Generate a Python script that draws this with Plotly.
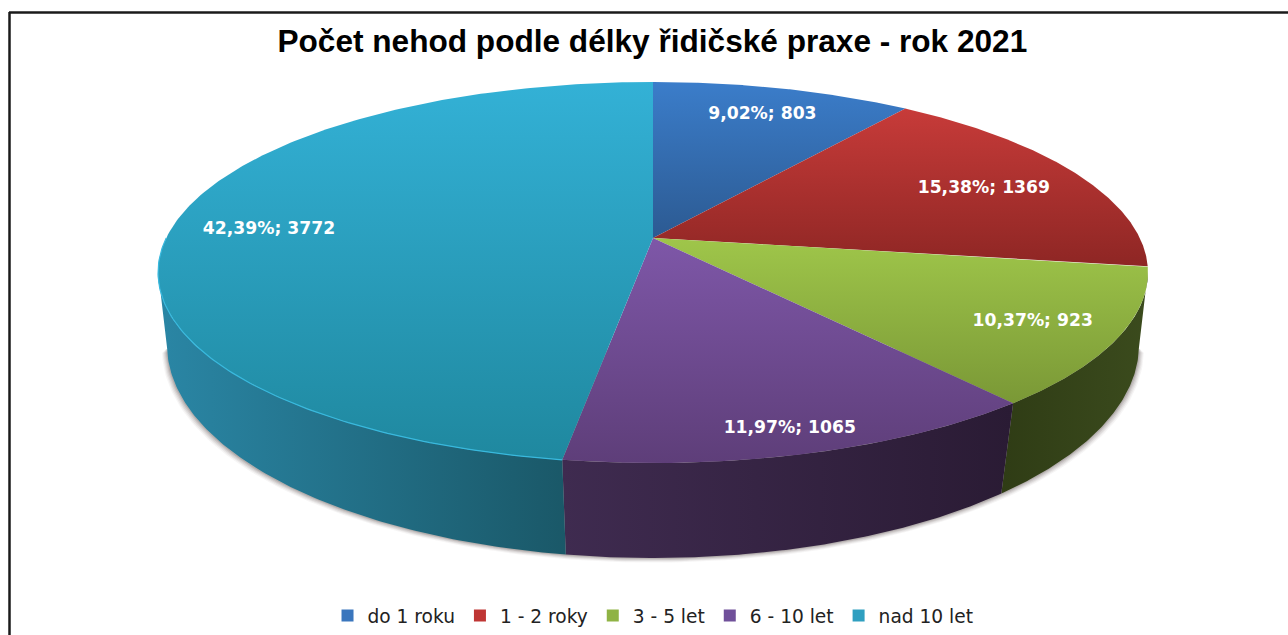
import numpy as np
import plotly.graph_objects as go

TITLE = "Počet nehod podle délky řidičské praxe - rok 2021"
categories = ["do 1 roku", "1 - 2 roky", "3 - 5 let", "6 - 10 let", "nad 10 let"]
counts = [803, 1369, 923, 1065, 3772]
percent_labels = ["9,02%", "15,38%", "10,37%", "11,97%", "42,39%"]

# style
face_top = ["#3b7dca", "#c73b39", "#9fc64a", "#7e57a8", "#33b1d6"]
face_bottom = ["#2c5a92", "#8e2624", "#7a9836", "#5e3e79", "#1f889f"]
wall_left = ["#2c5a92", "#8e2624", "#2f3c15", "#3f2b50", "#2a86a5"]
wall_right = ["#2c5a92", "#8e2624", "#3b4b1d", "#2a1b34", "#1a5868"]
swatch = ["#3a76bd", "#bf3634", "#8fb344", "#70509a", "#2f9fc0"]
label_radius = [0.82, 0.775, 0.83, 0.895, 0.80]
LABEL_DY = 2.5

# projection of the tilted disc
CX = 653
TOP = dict(y0=238, a=486.8, b=184.3, k=0.181)
BOT = dict(y0=311, a=479.7, b=207.5, k=0.16)


def project(theta_deg, plane, r=1.0):
    t = np.radians(theta_deg)
    u, v = r * np.sin(t), r * np.cos(t)
    w = 1 + plane["k"] * v
    return CX + plane["a"] * u / w, plane["y0"] - plane["b"] * v / w


total = sum(counts)
edges = np.concatenate([[0], np.cumsum(counts)]) / total * 360

fig = go.Figure()

# soft shadow beneath the disc
ring = np.linspace(100, 260, 181)
for grow, alpha in [(5, 0.05), (4, 0.07), (3, 0.09), (2, 0.12), (1, 0.16)]:
    sx, sy = project(ring, BOT)
    sx = CX + (sx - CX) * (1 + grow / 486)
    sy = sy + grow * 0.9
    fig.add_trace(go.Scatter(x=sx, y=sy, mode="lines", fill="toself", line=dict(width=0),
                             fillcolor=f"rgba(70,60,55,{alpha})", hoverinfo="skip", showlegend=False))

# side walls
for i in range(len(counts)):
    a0, a1 = max(edges[i], 100), min(edges[i + 1], 260)
    if a1 <= a0:
        continue
    th = np.linspace(a0, a1, 120)
    tx, ty = project(th, TOP)
    bx, by = project(th[::-1], BOT)
    xs, ys = np.r_[tx, bx], np.r_[ty, by]
    fig.add_trace(go.Scatter(
        x=xs, y=ys, mode="lines", line=dict(width=0), fill="toself", hoverinfo="skip", showlegend=False,
        fillgradient=dict(type="horizontal", start=float(xs.min()), stop=float(xs.max()),
                          colorscale=[[0, wall_left[i]], [1, wall_right[i]]]),
    ))

# top faces
for i, name in enumerate(categories):
    th = np.linspace(edges[i], edges[i + 1], 240)
    ax, ay = project(th, TOP)
    xs = np.r_[CX, ax, CX]
    ys = np.r_[TOP["y0"], ay, TOP["y0"]]
    fig.add_trace(go.Scatter(
        x=xs, y=ys, mode="lines", line=dict(width=0), fill="toself", name=name, hoverinfo="skip", showlegend=False,
        fillgradient=dict(type="vertical", start=float(ys.min()), stop=float(ys.max()),
                          colorscale=[[0, face_top[i]], [1, face_bottom[i]]]),
    ))

# light rim on the large slice
th = np.linspace(edges[4], 270, 120)
rx, ry = project(th, TOP)
fig.add_trace(go.Scatter(x=rx, y=ry, mode="lines", line=dict(color="#38b9de", width=1.2),
                         hoverinfo="skip", showlegend=False))

# data labels
mids = (edges[:-1] + edges[1:]) / 2
lx, ly = [], []
for m, r in zip(mids, label_radius):
    px, py = project(m, TOP, r)
    lx.append(px)
    ly.append(py + LABEL_DY)
texts = [f"{p}; {c}" for p, c in zip(percent_labels, counts)]
fig.add_trace(go.Scatter(x=lx, y=ly, mode="text", text=texts, hoverinfo="skip", showlegend=False,
                         textfont=dict(family="DejaVu Sans", size=17.2, color="#ffffff", weight=700)))

# legend entries
for name, c in zip(categories, swatch):
    fig.add_trace(go.Scatter(x=[None], y=[None], mode="markers", name=name,
                             marker=dict(symbol="square", size=12, color=c)))

fig.update_layout(
    width=1288, height=635, margin=dict(l=0, r=0, t=0, b=0),
    paper_bgcolor="#ffffff", plot_bgcolor="#ffffff",
    title=dict(text=f"<b>{TITLE}</b>", x=0.5065, xanchor="center", y=0.935, yanchor="middle",
               font=dict(family="Liberation Sans", size=31.6, color="#000000")),
    xaxis=dict(range=[0, 1288], visible=False, fixedrange=True),
    yaxis=dict(range=[635, 0], visible=False, fixedrange=True),
    legend=dict(orientation="h", x=0.507, xanchor="center", y=0.0, yanchor="bottom",
                font=dict(family="DejaVu Sans", size=18.6, color="#222222"),
                itemwidth=30, bgcolor="rgba(0,0,0,0)"),
    shapes=[
        dict(type="line", xref="x", yref="y", x0=9.5, x1=9.5, y0=12, y1=635, line=dict(color="#1a1a1a", width=2.5)),
        dict(type="line", xref="x", yref="y", x0=9, x1=1288, y0=12.5, y1=12.5, line=dict(color="#1a1a1a", width=2.5)),
    ],
)

fig.write_html("out.html", config={"displayModeBar": False},
               post_script="document.body.style.margin='0';document.body.style.overflow='hidden';")
